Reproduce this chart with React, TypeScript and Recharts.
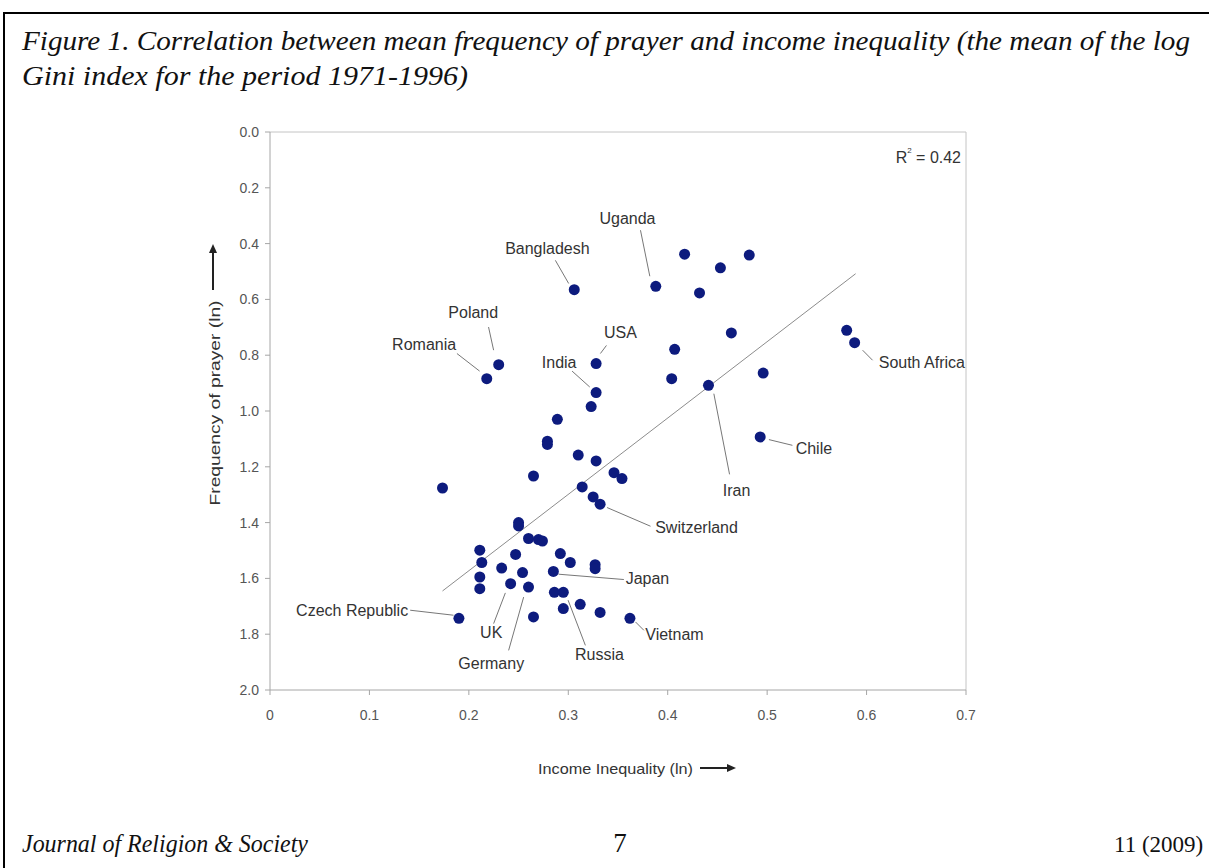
import React from 'react';
import { ScatterChart, Scatter, XAxis, YAxis, ReferenceLine } from 'recharts';

// mean log Gini index per country
const incomeInequality = [
  0.306, 0.230, 0.218, 0.328, 0.328, 0.323, 0.289, 0.279, 0.279, 0.310,
  0.328, 0.265, 0.346, 0.354, 0.314, 0.325, 0.332, 0.1735, 0.250, 0.250,
  0.260, 0.270, 0.274, 0.211, 0.213, 0.211, 0.211, 0.233, 0.247, 0.254,
  0.242, 0.260, 0.292, 0.302, 0.285, 0.327, 0.327, 0.286, 0.295, 0.295,
  0.312, 0.332, 0.362, 0.190, 0.265, 0.417, 0.482, 0.453, 0.388, 0.432,
  0.464, 0.407, 0.404, 0.441, 0.496, 0.493, 0.580, 0.588,
];

// mean frequency of prayer (ln)
const prayerFrequency = [
  0.565, 0.834, 0.884, 0.830, 0.934, 0.984, 1.030, 1.108, 1.120, 1.158,
  1.179, 1.233, 1.221, 1.242, 1.272, 1.308, 1.334, 1.276, 1.400, 1.412,
  1.457, 1.461, 1.466, 1.499, 1.543, 1.595, 1.637, 1.563, 1.514, 1.579,
  1.619, 1.631, 1.511, 1.543, 1.575, 1.551, 1.565, 1.650, 1.650, 1.708,
  1.693, 1.722, 1.743, 1.743, 1.738, 0.438, 0.441, 0.487, 0.553, 0.577,
  0.720, 0.779, 0.884, 0.908, 0.864, 1.093, 0.711, 0.755,
];

const xTicks = [0, 0.1, 0.2, 0.3, 0.4, 0.5, 0.6, 0.7];
const yTicks = [0, 0.2, 0.4, 0.6, 0.8, 1.0, 1.2, 1.4, 1.6, 1.8, 2.0];

// fitted line end points
const trendX = [0.1735, 0.589];
const trendY = [1.645, 0.508];

// country labels and their leader lines
const labelNames = [
  'Uganda', 'Bangladesh', 'Poland', 'Romania', 'USA', 'India', 'South Africa', 'Chile',
  'Iran', 'Switzerland', 'Japan', 'Vietnam', 'Russia', 'Germany', 'UK', 'Czech Republic',
];
const labelX = [0.3595, 0.279, 0.2044, 0.155, 0.3525, 0.2908, 0.6556, 0.547, 0.4693, 0.429, 0.3796, 0.4068, 0.3313, 0.2225, 0.2225, 0.0826];
const labelY = [0.309, 0.417, 0.646, 0.761, 0.718, 0.825, 0.825, 1.134, 1.284, 1.417, 1.6, 1.8, 1.872, 1.904, 1.793, 1.714];
const leaderFrom = [
  [0.3726, 0.352], [0.287, 0.46], [0.2198, 0.699], [0.188, 0.794], [0.3384, 0.765], [0.3038, 0.857],
  [0.596, 0.782], [0.5018, 1.1025], [0.4464, 0.938], [0.339, 1.346], [0.2903, 1.585], [0.3676, 1.756],
  [0.2998, 1.678], [0.2551, 1.667], [0.2367, 1.652], [0.141, 1.714],
];
const leaderTo = [
  [0.382, 0.517], [0.3004, 0.543], [0.2249, 0.782], [0.2108, 0.857], [0.3323, 0.794], [0.3216, 0.914],
  [0.606, 0.818], [0.5254, 1.123], [0.4622, 1.227], [0.3827, 1.413], [0.3559, 1.604], [0.376, 1.786],
  [0.3172, 1.84], [0.24, 1.858], [0.2249, 1.762], [0.1846, 1.732],
];

const points = incomeInequality.map((x, i) => ({ x, y: prayerFrequency[i] }));
const labels = labelNames.map((name, i) => ({ x: labelX[i], y: labelY[i], name }));
const rSquared = [{ x: 0.695, y: 0.091, name: '0.42' }];

const sans = 'Arial, "Liberation Sans", sans-serif';
const serif = '"Liberation Serif", "DejaVu Serif", serif';

const Dot = (p: any) => <circle cx={p.cx} cy={p.cy} r={5.5} fill="#0d1b7e" />;

const LabelText = (p: any) => (
  <text x={p.cx} y={p.cy} textAnchor="middle" dominantBaseline="central"
    fontSize={16} fontFamily={sans} fill="#333">{p.payload.name}</text>
);

const RText = (p: any) => (
  <text x={p.cx} y={p.cy} textAnchor="end" dominantBaseline="central" fontSize={16} fontFamily={sans} fill="#333">
    R<tspan fontSize={8} dy={-7}>2</tspan><tspan dy={7}> = {p.payload.name}</tspan>
  </text>
);

const XTick = (p: any) => (
  <text x={p.x} y={p.y} dy="0.71em" textAnchor="middle" fontSize={14} fontFamily={sans} fill="#555">
    {p.payload.value === 0 ? '0' : p.payload.value.toFixed(1)}
  </text>
);

const YTick = (p: any) => (
  <text x={p.x} y={p.y} dy="0.355em" textAnchor="end" fontSize={14} fontFamily={sans} fill="#555">
    {p.payload.value.toFixed(1)}
  </text>
);

const App: React.FC = () => {
  return (
    <div style={{ position: 'absolute', left: 0, top: 0, width: 1209, height: 868, overflow: 'hidden', background: '#fff' }}>
      <svg width={1209} height={868} style={{ position: 'absolute', left: 0, top: 0 }}>
        <rect x={4} y={13} width={1300} height={900} fill="none" stroke="#000" strokeWidth={2} />
        <text x={22} y={50} fontSize={27} fontStyle="italic" fontFamily={serif} fill="#111"
          textLength={1168} lengthAdjust="spacingAndGlyphs">
          Figure 1. Correlation between mean frequency of prayer and income inequality (the mean of the log
        </text>
        <text x={22} y={85} fontSize={27} fontStyle="italic" fontFamily={serif} fill="#111"
          textLength={446} lengthAdjust="spacingAndGlyphs">
          Gini index for the period 1971-1996)
        </text>
        <text x={22} y={852} fontSize={25} fontStyle="italic" fontFamily={serif} fill="#111"
          textLength={286} lengthAdjust="spacingAndGlyphs">Journal of Religion &amp; Society</text>
        <text x={620} y={852} fontSize={27} textAnchor="middle" fontFamily={serif} fill="#111">7</text>
        <text x={1114} y={852} fontSize={23} fontFamily={serif} fill="#111">11 (2009)</text>

        <text transform="translate(214,403) rotate(-90)" textAnchor="middle" dominantBaseline="central"
          fontSize={15} fontFamily={sans} fill="#333" textLength={205} lengthAdjust="spacingAndGlyphs">
          Frequency of prayer (ln)
        </text>
        <line x1={213} y1={290} x2={213} y2={252} stroke="#222" strokeWidth={2} />
        <path d="M209,253 L213,244 L217,253 Z" fill="#222" />

        <text x={538} y={768} dominantBaseline="central" fontSize={15} fontFamily={sans} fill="#333"
          textLength={155} lengthAdjust="spacingAndGlyphs">Income Inequality (ln)</text>
        <line x1={700} y1={768} x2={728} y2={768} stroke="#222" strokeWidth={2} />
        <path d="M727,764 L736,768 L727,772 Z" fill="#222" />
      </svg>

      <div style={{ position: 'absolute', left: 0, top: 0 }}>
        <ScatterChart width={1209} height={868} margin={{ top: 132, right: 243, bottom: 138, left: 230 }}>
          <XAxis type="number" dataKey="x" domain={[0, 0.7]} ticks={xTicks} interval={0} height={40}
            stroke="#a6a6a6" tickSize={5} tickMargin={15} tick={XTick} />
          <YAxis type="number" dataKey="y" domain={[0, 2]} reversed ticks={yTicks} interval={0} width={40}
            stroke="#a6a6a6" tickSize={5} tickMargin={6} tick={YTick} />
          <ReferenceLine y={0} stroke="#c4c4c4" />
          <ReferenceLine x={0.7} stroke="#c4c4c4" />
          <ReferenceLine segment={[{ x: trendX[0], y: trendY[0] }, { x: trendX[1], y: trendY[1] }]}
            stroke="#8c8c8c" strokeWidth={1} />
          {leaderFrom.map((f, i) => (
            <ReferenceLine key={i} segment={[{ x: f[0], y: f[1] }, { x: leaderTo[i][0], y: leaderTo[i][1] }]}
              stroke="#777" strokeWidth={1} ifOverflow="visible" />
          ))}
          <Scatter data={points} shape={Dot} isAnimationActive={false} />
          <Scatter data={labels} shape={LabelText} isAnimationActive={false} />
          <Scatter data={rSquared} shape={RText} isAnimationActive={false} />
        </ScatterChart>
      </div>
    </div>
  );
};

export default App;
